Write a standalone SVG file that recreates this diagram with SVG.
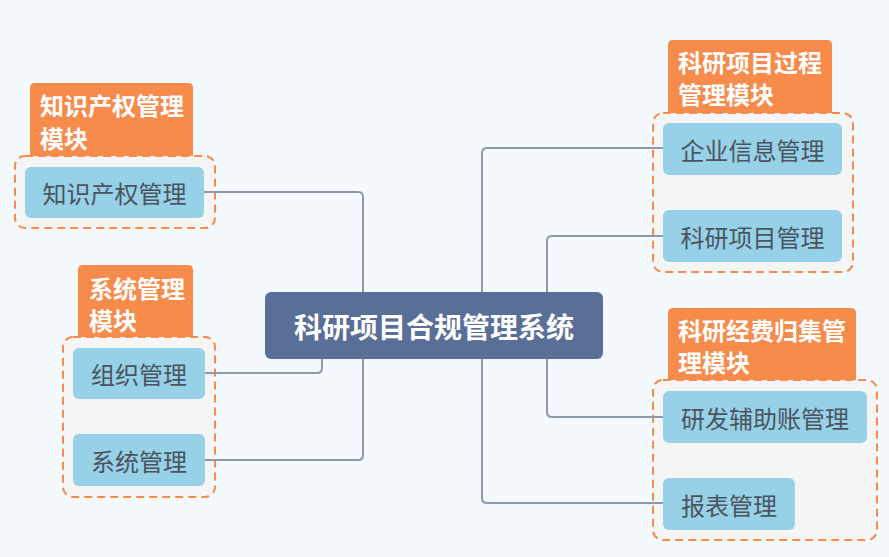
<svg xmlns="http://www.w3.org/2000/svg" width="889" height="557" viewBox="0 0 889 557">
<style>
.bg{fill:#f4f9fd}
.grp{fill:#f5f5f5;stroke:#f78b4c;stroke-width:2;stroke-dasharray:8 5}
.lbl{fill:#f78b4c}
.lbltxt{font-family:"Noto Sans CJK SC","Noto Sans",sans-serif;font-size:24px;font-weight:bold;fill:#ffffff;dominant-baseline:central}
.leaf{fill:#96d1e7}
.leaftxt{font-family:"Noto Sans CJK SC","Noto Sans",sans-serif;font-size:24px;fill:#4a545e;text-anchor:middle;dominant-baseline:central}
.root{fill:#5a6f97}
.roottxt{font-family:"Noto Sans CJK SC","Noto Sans",sans-serif;font-size:28px;font-weight:bold;fill:#ffffff;text-anchor:middle;dominant-baseline:central}
.conn{fill:none;stroke:#8d99ab;stroke-width:2}
</style>
<rect class="bg" x="0" y="0" width="889" height="557"/>

<g id="group-ip">
<path class="lbl" d="M35,83 H188 Q193,83 193,88 V157 H30 V88 Q30,83 35,83 Z"/>
<rect class="grp" x="15" y="156" width="200" height="72" rx="10"/>
<text class="lbltxt" x="40" y="104">知识产权管理</text>
<text class="lbltxt" x="40" y="137">模块</text>
</g>
<g id="group-sys">
<path class="lbl" d="M83,265 H188 Q193,265 193,270 V338 H78 V270 Q78,265 83,265 Z"/>
<rect class="grp" x="63" y="337" width="152" height="160" rx="10"/>
<text class="lbltxt" x="89" y="287">系统管理</text>
<text class="lbltxt" x="89" y="319">模块</text>
</g>
<g id="group-proc">
<path class="lbl" d="M673,40 H827 Q832,40 832,45 V114 H668 V45 Q668,40 673,40 Z"/>
<rect class="grp" x="653" y="113" width="200" height="159" rx="10"/>
<text class="lbltxt" x="678" y="61">科研项目过程</text>
<text class="lbltxt" x="678" y="93">管理模块</text>
</g>
<g id="group-fund">
<path class="lbl" d="M673,308 H851 Q856,308 856,313 V381 H668 V313 Q668,308 673,308 Z"/>
<rect class="grp" x="653" y="380" width="224" height="160" rx="10"/>
<text class="lbltxt" x="678" y="329">科研经费归集管</text>
<text class="lbltxt" x="678" y="361">理模块</text>
</g>

<g id="connectors">
<path class="conn" d="M204,192 H358 Q363,192 363,197 V293"/>
<path class="conn" d="M205,373 H317 Q322,373 322,368 V359"/>
<path class="conn" d="M205,460 H358 Q363,460 363,455 V359"/>
<path class="conn" d="M663,148 H487 Q482,148 482,153 V293"/>
<path class="conn" d="M663,236 H552 Q547,236 547,241 V293"/>
<path class="conn" d="M663,417 H552 Q547,417 547,412 V359"/>
<path class="conn" d="M663,503 H487 Q482,503 482,498 V359"/>
</g>

<g id="root">
<rect class="root" x="265" y="292" width="338" height="67" rx="6"/>
<text class="roottxt" x="434" y="326">科研项目合规管理系统</text>
</g>
<g id="node-ip">
<rect class="leaf" x="25" y="167" width="179" height="51" rx="6"/>
<text class="leaftxt" x="114.5" y="192.5">知识产权管理</text>
</g>
<g id="node-org">
<rect class="leaf" x="73" y="348" width="132" height="51" rx="6"/>
<text class="leaftxt" x="139" y="373.5">组织管理</text>
</g>
<g id="node-sysmgr">
<rect class="leaf" x="73" y="434" width="132" height="52" rx="6"/>
<text class="leaftxt" x="139" y="460">系统管理</text>
</g>
<g id="node-ent">
<rect class="leaf" x="663" y="123" width="179" height="52" rx="6"/>
<text class="leaftxt" x="752.5" y="149">企业信息管理</text>
</g>
<g id="node-proj">
<rect class="leaf" x="663" y="210" width="179" height="52" rx="6"/>
<text class="leaftxt" x="752.5" y="236">科研项目管理</text>
</g>
<g id="node-rd">
<rect class="leaf" x="663" y="391" width="204" height="52" rx="6"/>
<text class="leaftxt" x="765" y="417">研发辅助账管理</text>
</g>
<g id="node-report">
<rect class="leaf" x="663" y="478" width="132" height="52" rx="6"/>
<text class="leaftxt" x="729" y="504">报表管理</text>
</g>
</svg>
